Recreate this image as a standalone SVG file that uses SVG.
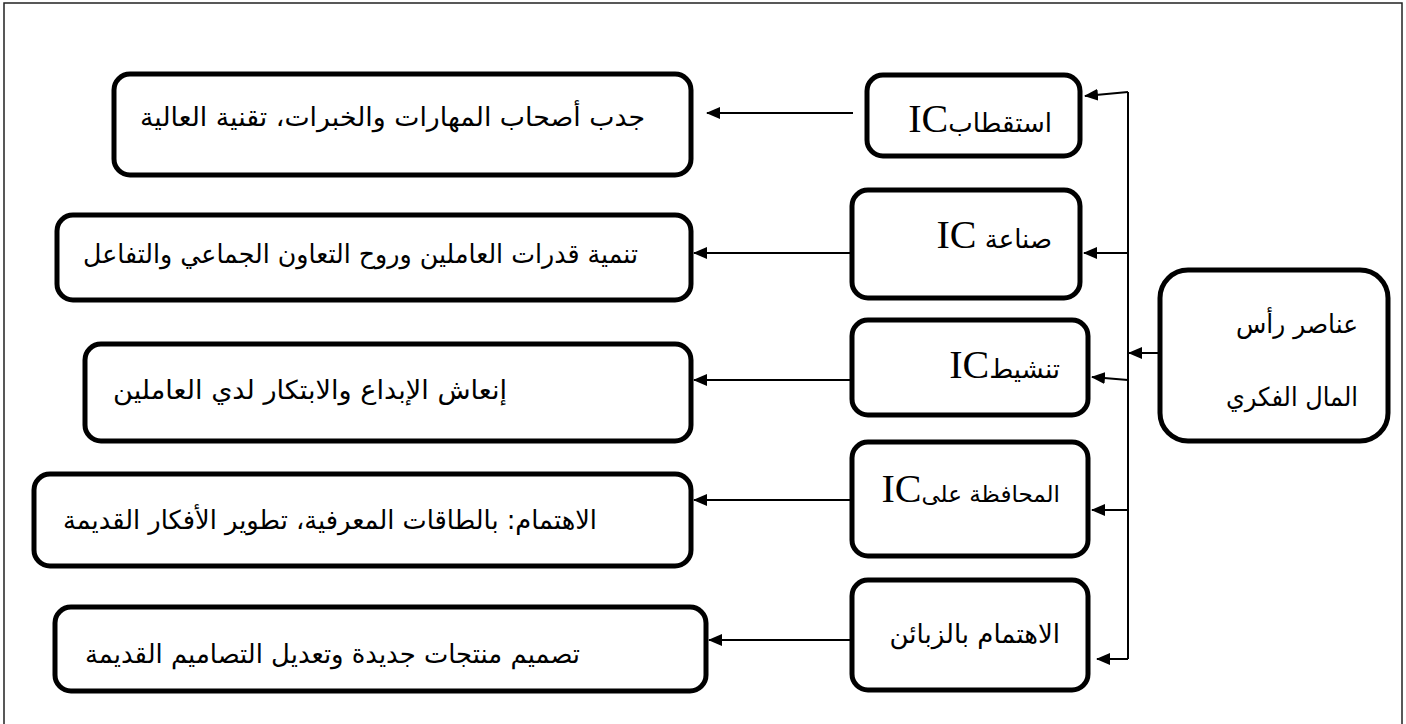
<svg xmlns="http://www.w3.org/2000/svg" width="1406" height="724" viewBox="0 0 1406 724">
<style>
.box{fill:#fff;stroke:#000;stroke-width:5}
.frame{fill:#fff;stroke:#222;stroke-width:1.5}
.con{fill:none;stroke:#000;stroke-width:2}
.ar{font-family:"DejaVu Sans","Noto Sans",sans-serif;font-size:26px;fill:#000}
.mid{font-family:"DejaVu Sans","Noto Sans",sans-serif;font-size:26px;fill:#000}
.root{font-family:"DejaVu Sans","Noto Sans",sans-serif;font-size:26px;fill:#000}
.ic{font-family:"Liberation Serif",serif;font-size:40px}
</style>
<defs>
<marker id="ah" markerWidth="14" markerHeight="12" refX="13" refY="6" orient="auto" markerUnits="userSpaceOnUse">
<path d="M0,0 L14,6 L0,12 z" fill="#000"/>
</marker>
</defs>
<rect class="frame" x="4" y="3" width="1398" height="730"/>

<g id="connectors">
<line class="con" x1="1128" y1="92" x2="1128" y2="659"/>
<line class="con" x1="1158" y1="353" x2="1129" y2="353" marker-end="url(#ah)"/>
<line class="con" x1="1128" y1="92" x2="1085" y2="96" marker-end="url(#ah)"/>
<line class="con" x1="1128" y1="253" x2="1084" y2="253" marker-end="url(#ah)"/>
<line class="con" x1="1128" y1="380" x2="1092" y2="377" marker-end="url(#ah)"/>
<line class="con" x1="1128" y1="510" x2="1092" y2="510" marker-end="url(#ah)"/>
<line class="con" x1="1128" y1="659" x2="1097" y2="659" marker-end="url(#ah)"/>
<line class="con" x1="853" y1="113" x2="707" y2="113" marker-end="url(#ah)"/>
<line class="con" x1="850" y1="253" x2="694" y2="253" marker-end="url(#ah)"/>
<line class="con" x1="850" y1="380" x2="694" y2="380" marker-end="url(#ah)"/>
<line class="con" x1="850" y1="500" x2="694" y2="500" marker-end="url(#ah)"/>
<line class="con" x1="850" y1="640" x2="709" y2="640" marker-end="url(#ah)"/>
</g>

<g id="root">
<rect class="box" x="1160" y="270" width="228" height="171" rx="28"/>
<text class="root" x="1358" y="333" direction="rtl" text-anchor="start" textLength="122" lengthAdjust="spacingAndGlyphs">عناصر رأس</text>
<text class="root" x="1358" y="406" direction="rtl" text-anchor="start" textLength="132" lengthAdjust="spacingAndGlyphs">المال الفكري</text>
</g>

<g id="m1">
<rect class="box" x="867" y="75" width="213" height="81" rx="16"/>
<text class="mid" x="1052" y="132" direction="rtl" text-anchor="start">استقطاب<tspan class="ic">IC</tspan></text>
</g>
<g id="m2">
<rect class="box" x="852" y="190" width="228" height="108" rx="16"/>
<text class="mid" x="1052" y="248" direction="rtl" text-anchor="start">صناعة <tspan class="ic">IC</tspan></text>
</g>
<g id="m3">
<rect class="box" x="852" y="320" width="236" height="95" rx="16"/>
<text class="mid" x="1060" y="378" direction="rtl" text-anchor="start">تنشيط<tspan class="ic">IC</tspan></text>
</g>
<g id="m4">
<rect class="box" x="852" y="442" width="236" height="114" rx="16"/>
<text class="mid" x="1060" y="502" direction="rtl" text-anchor="start" style="font-size:23px">المحافظة على<tspan class="ic">IC</tspan></text>
</g>
<g id="m5">
<rect class="box" x="852" y="580" width="236" height="110" rx="16"/>
<text class="mid" x="1060" y="643" direction="rtl" text-anchor="start">الاهتمام بالزبائن</text>
</g>

<g id="l1">
<rect class="box" x="114" y="74" width="577" height="101" rx="16"/>
<text class="ar" x="645" y="126" direction="rtl" text-anchor="start" textLength="505" lengthAdjust="spacingAndGlyphs">جدب أصحاب المهارات والخبرات، تقنية العالية</text>
</g>
<g id="l2">
<rect class="box" x="57" y="215" width="634" height="85" rx="16"/>
<text class="ar" x="638" y="263" direction="rtl" text-anchor="start" textLength="555" lengthAdjust="spacingAndGlyphs">تنمية قدرات العاملين وروح التعاون الجماعي والتفاعل</text>
</g>
<g id="l3">
<rect class="box" x="85" y="344" width="606" height="97" rx="16"/>
<text class="ar" x="507" y="399" direction="rtl" text-anchor="start" textLength="394" lengthAdjust="spacingAndGlyphs">إنعاش الإبداع والابتكار لدي العاملين</text>
</g>
<g id="l4">
<rect class="box" x="34" y="474" width="657" height="92" rx="16"/>
<text class="ar" x="597" y="529" direction="rtl" text-anchor="start" textLength="534" lengthAdjust="spacingAndGlyphs">الاهتمام: بالطاقات المعرفية، تطوير الأفكار القديمة</text>
</g>
<g id="l5">
<rect class="box" x="55" y="607" width="651" height="84" rx="16"/>
<text class="ar" x="580" y="663" direction="rtl" text-anchor="start" textLength="495" lengthAdjust="spacingAndGlyphs">تصميم منتجات جديدة وتعديل التصاميم القديمة</text>
</g>
</svg>
